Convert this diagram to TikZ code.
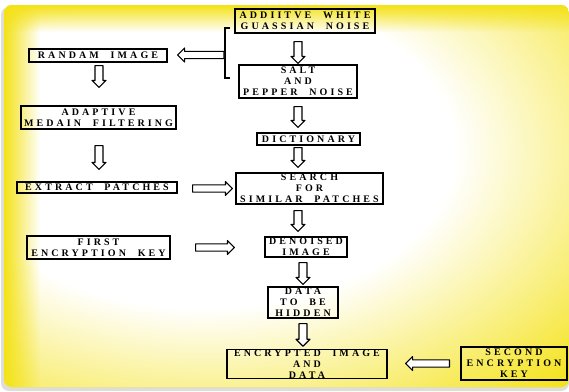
\documentclass[tikz,border=0pt]{standalone}
\usepackage{fontspec}
\newfontfamily\spfont[LetterSpace=31,WordSpace=2.1]{Liberation Serif}
\usetikzlibrary{calc,fadings}
\definecolor{ylw}{RGB}{244,226,22}
\definecolor{shadowgrey}{RGB}{222,222,215}
\pgfdeclareradialshading{glow}{\pgfpoint{0bp}{0bp}}{color(0bp)=(white); color(12bp)=(white); color(25bp)=(ylw); color(50bp)=(ylw)}
\newdimen\blkA
\newdimen\blkB
\newdimen\blkW
\blkW=3.6pt
\tikzset{
  box/.style={draw=black, line width=1.1pt, inner sep=0pt, align=center,
    font=\spfont\bfseries\fontsize{10}{10.9}\selectfont},
  sa/.code={\pgfmathsetlength\blkA{#1}},
  sb/.code={\pgfmathsetlength\blkB{#1}},
  sw/.code={\pgfmathsetlength\blkW{#1}},
  blk/.style={draw=black, line width=1.1pt, fill=white, line join=round,
    to path={let \p1=(\tikztostart), \p2=(\tikztotarget),
      \n1={atan2(\y2-\y1,\x2-\x1)},
      \n2={veclen(\x2-\x1,\y2-\y1)-\blkA-\blkB} in
      {[shift={(\x1,\y1)}, rotate=\n1]
        (\blkA,-\blkW) -- (\blkA+\n2*1pt-7pt,-\blkW) -- (\blkA+\n2*1pt-7pt,-7pt)
        -- (\blkA+\n2*1pt,0pt) -- (\blkA+\n2*1pt-7pt,7pt) -- (\blkA+\n2*1pt-7pt,\blkW)
        -- (\blkA,\blkW) -- cycle}}},
  brk/.style={draw=black, line width=1.1pt}
}
\begin{document}
\begin{tikzpicture}[x=1pt,y=-1pt]
\useasboundingbox (0,0) rectangle (569,391);
% background
\fill[shadowgrey, rounded corners=8pt] (1,7) rectangle (569,391);
\begin{scope}
  \clip[rounded corners=8pt] (4,5) rectangle (569,387);
  \fill[ylw] (0,0) rectangle (569,391);
  \shade[shading=glow] (205,150) ellipse [x radius=520, y radius=330];
  \fill[ylw, path fading=east] (4,0) rectangle (40,391);
  \fill[ylw, path fading=south] (0,5) rectangle (569,32);
\end{scope}
% nodes
\node[box, minimum width=140pt, minimum height=24pt] (awgn) at (305,21) {ADDIITVE WHITE\\GUASSIAN NOISE};
\node[box, minimum width=118pt, minimum height=33pt] (salt) at (298,81.5) {SALT\\AND\\PEPPER NOISE};
\node[box, minimum width=138pt, minimum height=13pt] (randam) at (98,55.5) {RANDAM IMAGE};
\node[box, minimum width=155pt, minimum height=23pt] (adapt) at (98.5,117.5) {ADAPTIVE\\MEDAIN FILTERING};
\node[box, minimum width=103pt, minimum height=12pt] (dict) at (308.5,139) {DICTIONARY};
\node[box, minimum width=160pt, minimum height=11pt] (extract) at (97,187.5) {EXTRACT PATCHES};
\node[box, minimum width=147pt, minimum height=31pt] (search) at (309.5,188.5) {SEARCH\\FOR\\SIMILAR PATCHES};
\node[box, minimum width=143pt, minimum height=23pt] (first) at (98.5,247.5) {FIRST\\ENCRYPTION KEY};
\node[box, minimum width=82pt, minimum height=20pt] (denoised) at (306,247) {DENOISED\\IMAGE};
\node[box, minimum width=70pt, minimum height=31pt] (data) at (303,302.5) {DATA\\TO BE\\HIDDEN};
\node[box, minimum width=160pt, minimum height=28pt] (enc) at (307,364) {ENCRYPTED IMAGE\\AND\\DATA};
\node[box, minimum width=106pt, minimum height=33pt] (second) at (514,363.5) {SECOND\\ENCRYPTION\\KEY};
% bracket
\coordinate (btop) at (230,28);
\coordinate (bbot) at (230,78);
\coordinate (bmid) at (224,55);
\coordinate (lx) at (99,0);
\draw[brk] (btop) -- ++(-5,0) |- (bbot);
% arrows
\draw[blk, sw=4pt, sa=8pt, sb=1pt] (awgn.south -| salt.north) to (salt.north);
\draw[blk, sw=4pt, sa=8pt, sb=5pt] (salt.south) to (salt.south |- dict.north);
\draw[blk, sw=4pt, sa=2pt, sb=5pt] (salt.south |- dict.south) to (salt.south |- search.north);
\draw[blk, sw=4pt, sa=6pt, sb=5pt] (salt.south |- search.south) to (salt.south |- denoised.north);
\draw[blk, sw=4pt, sa=5pt, sb=2pt] (data.north |- denoised.south) to (data.north);
\draw[blk, sw=4pt, sa=5pt, sb=3pt] (data.south) to (data.south |- enc.north);
\draw[blk, sw=4pt, sa=3pt, sb=18pt] (randam.south -| lx) to (adapt.north -| lx);
\draw[blk, sw=4pt, sa=16pt, sb=12pt] (adapt.south -| lx) to (extract.north -| lx);
\draw[blk, sa=0pt, sb=10pt] (bmid) to (randam.east |- bmid);
\draw[blk, sa=15pt, sb=3pt] (extract.east |- search.west) to (search.west);
\draw[blk, sa=25pt, sb=30pt] (first.east) to (denoised.west |- first.east);
\draw[blk, sa=11pt, sb=18pt] (second.west) to (enc.east |- second.west);
\end{tikzpicture}
\end{document}
